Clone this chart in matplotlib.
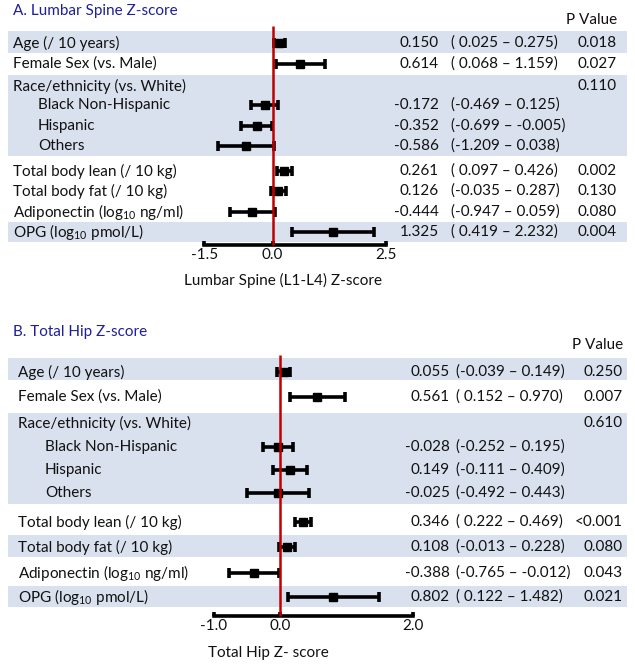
import numpy as np
import matplotlib
matplotlib.use("Agg")
import matplotlib.pyplot as plt

FONT = "Lato"
plt.rcParams['font.family'] = [FONT, 'DejaVu Sans']
plt.rcParams['mathtext.fontset'] = 'custom'
plt.rcParams['mathtext.rm'] = FONT
plt.rcParams['mathtext.it'] = FONT

# ---------------- data ----------------
labels = ["Age (/ 10 years)", "Female Sex (vs. Male)", "Race/ethnicity (vs. White)",
          "Black Non-Hispanic", "Hispanic", "Others",
          "Total body lean (/ 10 kg)", "Total body fat (/ 10 kg)",
          "Adiponectin (log$_{10}$ ng/ml)", "OPG (log$_{10}$ pmol/L)"]
indented = [False, False, False, True, True, True, False, False, False, False]

spine_est = [0.150, 0.614, np.nan, -0.172, -0.352, -0.586, 0.261, 0.126, -0.444, 1.325]
spine_lo = [0.025, 0.068, np.nan, -0.469, -0.699, -1.209, 0.097, -0.035, -0.947, 0.419]
spine_hi = [0.275, 1.159, np.nan, 0.125, -0.005, 0.038, 0.426, 0.287, 0.059, 2.232]
spine_p = ["0.018", "0.027", "0.110", "", "", "", "0.002", "0.130", "0.080", "0.004"]
spine_ticks = [-1.5, 0.0, 2.5]

hip_est = [0.055, 0.561, np.nan, -0.028, 0.149, -0.025, 0.346, 0.108, -0.388, 0.802]
hip_lo = [-0.039, 0.152, np.nan, -0.252, -0.111, -0.492, 0.222, -0.013, -0.765, 0.122]
hip_hi = [0.149, 0.970, np.nan, 0.195, 0.409, 0.443, 0.469, 0.228, -0.012, 1.482]
hip_p = ["0.250", "0.007", "0.610", "", "", "", "<0.001", "0.080", "0.043", "0.021"]
hip_ticks = [-1.0, 0.0, 2.0]

# ---------------- layout (pixels) ----------------
W, H = 635, 666
BAND = "#D9E0EE"
TITLE_C = "#1F1F99"
TXT = "#111111"
RED = "#C00000"
FS = 11

fig = plt.figure(figsize=(W / 100, H / 100), dpi=100)


def ci_str(lo, hi):
    a = ("( " if lo >= 0 else "(") + f"{lo:.3f}"
    b = f"{hi:.3f})"
    return a + " \u2013 " + b


def panel(top_px, bot_px, title, title_y, est, lo, hi, pvals, ticks, xlabel,
          zero_px, px_per_unit, rows_y, bands, red_top, axis_y,
          lab_x, ind_x, est_x, ci_x, p_x, phead_y, xlabel_px, xlabel_y):
    ax = fig.add_axes([0, 1 - bot_px / H, 1, (bot_px - top_px) / H])
    ax.set_xlim(-zero_px / px_per_unit, (W - zero_px) / px_per_unit)
    ax.set_ylim(bot_px, top_px)
    ax.patch.set_alpha(0)
    tr = ax.get_yaxis_transform()  # x: axes fraction, y: data
    for (b0, b1) in bands:
        ax.axhspan(b0, b1, xmin=8 / W, xmax=627 / W, color=BAND, lw=0, zorder=0)
    ax.text(13 / W, title_y, title, transform=tr, color=TITLE_C, fontsize=FS,
            va="center", ha="left")
    ax.text(p_x / W, phead_y, "P Value", transform=tr, color=TXT, fontsize=FS,
            va="center", ha="right")
    for i, lab in enumerate(labels):
        y = rows_y[i]
        ax.text((ind_x if indented[i] else lab_x) / W, y, lab, transform=tr,
                color=TXT, fontsize=FS, va="center", ha="left")
        if not np.isnan(est[i]):
            ax.text(est_x / W, y, f"{est[i]:.3f}", transform=tr, color=TXT,
                    fontsize=FS, va="center", ha="right")
            ax.text(ci_x / W, y, ci_str(lo[i], hi[i]), transform=tr, color=TXT,
                    fontsize=FS, va="center", ha="left")
        if pvals[i]:
            ax.text(p_x / W, y, pvals[i], transform=tr, color=TXT, fontsize=FS,
                    va="center", ha="right")
    e = np.array(est); l = np.array(lo); h = np.array(hi)
    m = ~np.isnan(e)
    ax.errorbar(e[m], np.array(rows_y)[m], xerr=[e[m] - l[m], h[m] - e[m]],
                fmt="s", color="black", ms=5.2, elinewidth=2.6, capsize=3.8,
                capthick=2.6, zorder=3)
    ax.plot([0, 0], [red_top, axis_y], color=RED, lw=1.8, zorder=4,
            solid_capstyle="butt")
    for s in ["top", "left", "right"]:
        ax.spines[s].set_visible(False)
    ax.spines["bottom"].set_position(("data", axis_y))
    ax.spines["bottom"].set_bounds(ticks[0], ticks[-1])
    ax.spines["bottom"].set_linewidth(2.6)
    ax.set_xticks(ticks)
    ax.set_xticklabels([f"{t:.1f}" for t in ticks], fontsize=FS, color=TXT)
    ax.tick_params(axis="x", direction="in", length=3, width=2.6, pad=2)
    ax.set_yticks([])
    ax.text((xlabel_px - zero_px) / px_per_unit, xlabel_y, xlabel, color=TXT,
            fontsize=FS, ha="center", va="center")
    return ax


panel(0, 300, "A. Lumbar Spine Z-score", 11, spine_est, spine_lo, spine_hi, spine_p,
      spine_ticks, "Lumbar Spine (L1-L4) Z-score",
      zero_px=272.5, px_per_unit=45.4,
      rows_y=[43, 64, 86, 105, 126, 146, 171, 191, 212, 232],
      bands=[(31, 53), (75, 156), (222, 242)], red_top=26, axis_y=245,
      lab_x=13, ind_x=38, est_x=439, ci_x=451, p_x=617, phead_y=20,
      xlabel_px=283, xlabel_y=280)

panel(300, 666, "B. Total Hip Z-score", 332, hip_est, hip_lo, hip_hi, hip_p,
      hip_ticks, "Total Hip Z- score",
      zero_px=280, px_per_unit=66.5,
      rows_y=[372, 397, 423, 447, 470, 493, 522, 547, 573, 597],
      bands=[(358, 380), (413, 504), (535, 557), (586, 607)], red_top=355,
      axis_y=616,
      lab_x=18, ind_x=45, est_x=450, ci_x=456, p_x=623, phead_y=345,
      xlabel_px=268, xlabel_y=653)

fig.savefig("out.png", dpi=100)
